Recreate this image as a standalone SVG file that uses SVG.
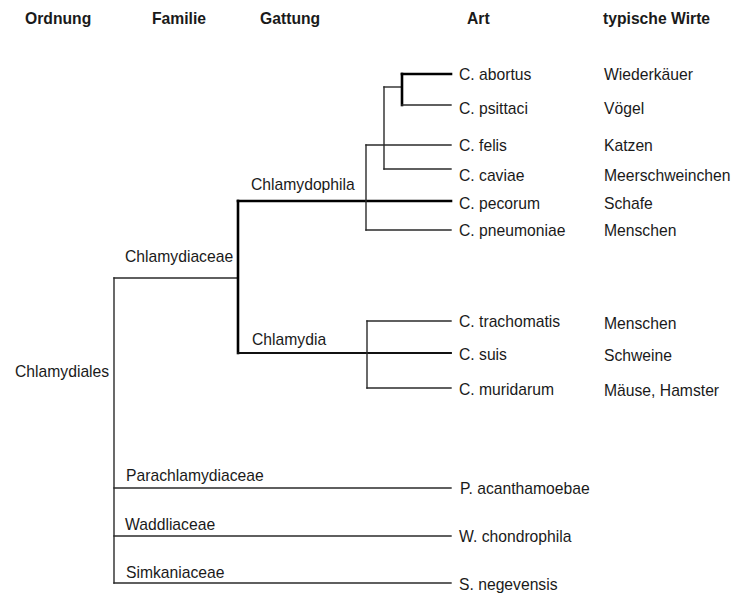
<svg xmlns="http://www.w3.org/2000/svg" width="732" height="594" viewBox="0 0 732 594">
<style>
text{font-family:"Liberation Sans",Arial,sans-serif;font-size:15.7px;fill:#1a1a1a}
.h{font-weight:bold}
.t{fill:none;stroke:#2a2a2a;stroke-width:1.4;stroke-linecap:square}
.m{fill:none;stroke:#111;stroke-width:1.8;stroke-linecap:square}
.k{fill:none;stroke:#000;stroke-width:2.6;stroke-linecap:square}
</style>
<rect width="732" height="594" fill="#fff"/>
<g id="headers">
<text class="h" x="25" y="24">Ordnung</text>
<text class="h" x="152" y="24">Familie</text>
<text class="h" x="260" y="24">Gattung</text>
<text class="h" x="467" y="24">Art</text>
<text class="h" x="603" y="24">typische Wirte</text>
</g>
<g id="connectors">
<path class="t" d="M114,278 V583"/>
<path class="t" d="M114,278 H238"/>
<path class="k" d="M238,201 V353"/>
<path class="k" d="M238,201 H451"/>
<path class="t" d="M366,145 V230"/>
<path class="t" d="M366,145 H451"/>
<path class="t" d="M366,230 H451"/>
<path class="t" d="M384,87 V169"/>
<path class="t" d="M384,87 H402"/>
<path class="t" d="M384,169 H451"/>
<path class="k" d="M402,74 V105"/>
<path class="k" d="M402,74 H451"/>
<path class="t" d="M402,105 H451"/>
<path class="m" d="M238,353 H451"/>
<path class="t" d="M367,321 V388"/>
<path class="t" d="M367,321 H451"/>
<path class="t" d="M367,388 H451"/>
<path class="t" d="M114,488 H451"/>
<path class="t" d="M114,536 H451"/>
<path class="t" d="M114,583 H451"/>
</g>
<g id="n-chlamydiales"><text x="15" y="376.5">Chlamydiales</text></g>
<g id="n-chlamydiaceae"><text x="125" y="262">Chlamydiaceae</text></g>
<g id="n-chlamydophila"><text x="251" y="190">Chlamydophila</text></g>
<g id="n-chlamydia"><text x="252" y="344.5">Chlamydia</text></g>
<g id="n-parachlamydiaceae"><text x="126" y="481">Parachlamydiaceae</text></g>
<g id="n-waddliaceae"><text x="125" y="529.5">Waddliaceae</text></g>
<g id="n-simkaniaceae"><text x="126" y="577.5">Simkaniaceae</text></g>
<g id="n-abortus"><text x="459" y="79.5">C. abortus</text><text x="604" y="79.5">Wiederkäuer</text></g>
<g id="n-psittaci"><text x="459" y="113.5">C. psittaci</text><text x="604" y="113.5">Vögel</text></g>
<g id="n-felis"><text x="459" y="151">C. felis</text><text x="604" y="151">Katzen</text></g>
<g id="n-caviae"><text x="459" y="180.5">C. caviae</text><text x="604" y="180.5">Meerschweinchen</text></g>
<g id="n-pecorum"><text x="459" y="208.5">C. pecorum</text><text x="604" y="208.5">Schafe</text></g>
<g id="n-pneumoniae"><text x="459" y="236">C. pneumoniae</text><text x="604" y="236">Menschen</text></g>
<g id="n-trachomatis"><text x="459" y="327">C. trachomatis</text><text x="604" y="328.5">Menschen</text></g>
<g id="n-suis"><text x="459" y="359.5">C. suis</text><text x="604" y="361">Schweine</text></g>
<g id="n-muridarum"><text x="459" y="395">C. muridarum</text><text x="604" y="395.5">Mäuse, Hamster</text></g>
<g id="n-acanthamoebae"><text x="460" y="493.5">P. acanthamoebae</text></g>
<g id="n-chondrophila"><text x="459" y="542">W. chondrophila</text></g>
<g id="n-negevensis"><text x="459" y="590">S. negevensis</text></g>
</svg>
